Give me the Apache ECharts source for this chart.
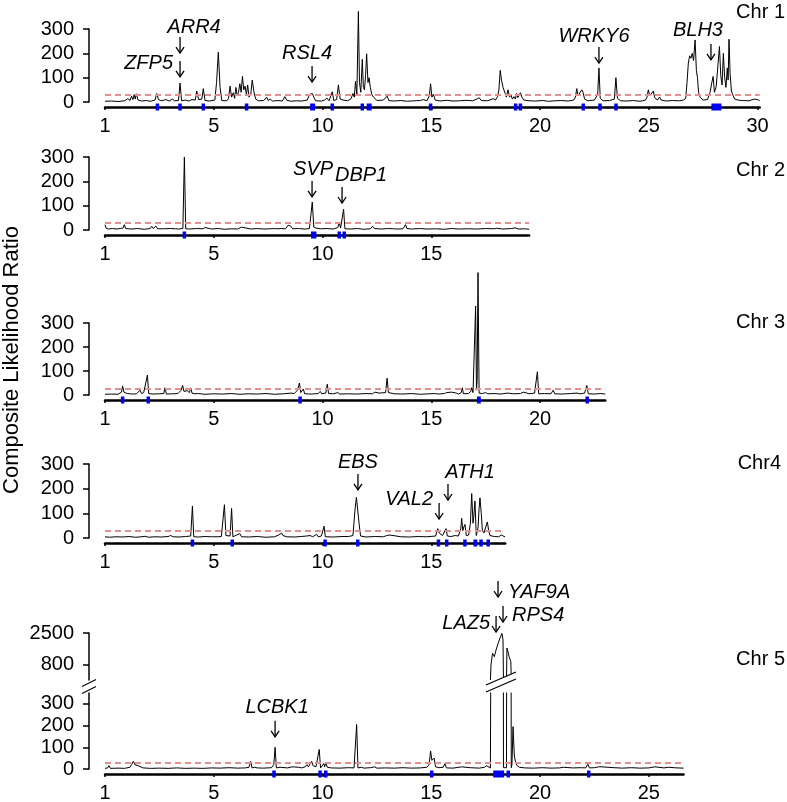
<!DOCTYPE html>
<html><head><meta charset="utf-8">
<script src="https://cdn.jsdelivr.net/npm/echarts@6/dist/echarts.min.js"></script>
<style>html,body{margin:0;padding:0;background:#fff}#c{width:787px;height:802px}</style>
</head><body><div id="c"></div>
<script>
// ---------------- DATA ----------------
const chrNames = ['Chr 1', 'Chr 2', 'Chr 3', 'Chr4', 'Chr 5'];
const chrLength = [30.1, 19.5, 23.0, 18.4, 26.6];           // Mb shown on each axis
const xTickPos = [0, 5, 10, 15, 20, 25, 30];
const xTickText = ['1', '5', '10', '15', '20', '25', '30'];
const yTicksLow = [0, 100, 200, 300];
const yTicksHigh = [800, 2500];
const threshold = 28;
const yTitle = 'Composite Likelihood Ratio';

// [position (Mb), composite likelihood ratio]
const chr1 = [[0,3],[0.3,4],[0.6,2],[0.9,5],[1.05,14],[1.15,6],[1.22,24],[1.28,10],[1.34,30],[1.39,12],[1.44,34],[1.52,8],[1.6,16],[1.68,4],[1.9,6],[2.1,3],[2.3,8],[2.38,35],[2.46,10],[2.6,5],[2.8,10],[2.95,4],[3.1,12],[3.2,5],[3.38,6],[3.45,78],[3.52,5],[3.7,8],[3.85,4],[4.0,10],[4.15,8],[4.22,45],[4.3,10],[4.37,18],[4.45,12],[4.52,55],[4.6,6],[4.8,4],[5.05,8],[5.13,80],[5.21,205],[5.29,60],[5.37,6],[5.6,5],[5.68,15],[5.75,65],[5.82,20],[5.9,38],[5.96,15],[6.02,60],[6.08,25],[6.14,40],[6.2,75],[6.26,40],[6.32,105],[6.38,50],[6.44,65],[6.5,30],[6.56,70],[6.62,20],[6.7,30],[6.77,90],[6.85,40],[6.93,12],[7.05,5],[7.3,6],[7.43,20],[7.5,6],[7.6,12],[7.7,4],[7.95,6],[8.15,4],[8.27,22],[8.35,8],[8.43,12],[8.55,3],[8.8,5],[9.05,4],[9.3,8],[9.4,30],[9.47,34],[9.53,35],[9.6,20],[9.68,5],[9.95,4],[10.1,8],[10.2,16],[10.3,5],[10.45,42],[10.52,6],[10.65,10],[10.73,70],[10.81,12],[10.95,8],[11.15,5],[11.3,12],[11.4,35],[11.46,20],[11.52,85],[11.58,30],[11.65,372],[11.7,80],[11.76,40],[11.83,175],[11.88,60],[11.93,50],[11.98,110],[12.03,198],[12.09,80],[12.14,100],[12.2,60],[12.27,30],[12.35,20],[12.5,6],[12.8,8],[12.97,24],[13.05,6],[13.3,4],[13.6,6],[13.9,3],[14.2,5],[14.5,6],[14.64,10],[14.8,5],[14.91,25],[14.97,75],[15.03,20],[15.1,32],[15.18,8],[15.4,4],[15.7,7],[16.0,4],[16.3,5],[16.6,7],[16.9,5],[17.1,12],[17.2,18],[17.3,6],[17.6,5],[17.85,14],[17.95,8],[18.05,22],[18.11,50],[18.17,130],[18.23,90],[18.3,60],[18.38,40],[18.45,20],[18.53,50],[18.6,20],[18.66,30],[18.73,12],[18.8,22],[18.87,12],[18.92,35],[18.98,18],[19.05,25],[19.1,38],[19.17,20],[19.25,8],[19.5,5],[19.8,4],[20.1,6],[20.4,3],[20.7,5],[21.0,6],[21.3,4],[21.55,8],[21.63,20],[21.69,55],[21.75,25],[21.83,30],[21.92,50],[21.98,40],[22.05,12],[22.2,5],[22.5,8],[22.65,30],[22.71,140],[22.77,15],[22.9,5],[23.2,6],[23.42,12],[23.49,100],[23.56,15],[23.7,5],[24.0,4],[24.3,6],[24.6,3],[24.85,8],[24.92,20],[24.98,50],[25.05,25],[25.13,30],[25.21,45],[25.27,18],[25.4,8],[25.5,20],[25.57,8],[25.8,4],[26.1,6],[26.4,5],[26.6,8],[26.7,15],[26.76,80],[26.82,160],[26.88,190],[26.94,180],[27.0,200],[27.06,170],[27.13,255],[27.19,130],[27.24,100],[27.29,40],[27.36,20],[27.5,8],[27.7,10],[27.82,40],[27.9,80],[27.96,105],[28.02,40],[28.1,63],[28.16,60],[28.25,228],[28.31,110],[28.37,70],[28.43,200],[28.49,100],[28.55,60],[28.61,140],[28.65,90],[28.69,258],[28.74,118],[28.8,45],[28.86,30],[28.95,12],[29.1,8],[29.3,6],[29.6,5],[29.85,12],[29.93,20],[30.0,10],[30.1,6]];

const chr2 = [[0,22],[0.05,8],[0.15,4],[0.35,6],[0.55,4],[0.7,6],[0.83,8],[0.89,22],[0.95,6],[1.2,4],[1.5,6],[1.8,3],[2.08,6],[2.15,15],[2.22,6],[2.34,16],[2.42,5],[2.7,5],[3.0,6],[3.24,5],[3.3,12],[3.37,4],[3.58,6],[3.65,300],[3.71,5],[3.9,4],[4.2,6],[4.5,5],[4.6,10],[4.67,5],[4.9,4],[5.2,6],[5.5,3],[5.8,5],[6.1,4],[6.28,12],[6.35,5],[6.7,4],[7.0,6],[7.3,4],[7.6,5],[7.75,6],[7.82,12],[7.89,5],[8.1,6],[8.3,5],[8.42,20],[8.48,28],[8.55,15],[8.62,5],[8.9,6],[9.2,4],[9.4,6],[9.53,115],[9.6,12],[9.7,8],[9.9,5],[10.2,6],[10.5,4],[10.7,10],[10.77,30],[10.83,8],[10.9,10],[10.97,85],[11.03,5],[11.3,4],[11.6,6],[11.9,3],[12.2,5],[12.3,15],[12.38,6],[12.7,4],[13.0,6],[13.27,5],[13.33,12],[13.4,4],[13.7,5],[13.82,22],[13.88,6],[14.1,4],[14.5,6],[14.8,4],[15.2,5],[15.6,3],[15.9,6],[16.3,4],[16.7,5],[17.1,4],[17.5,6],[17.9,5],[18.0,7],[18.3,4],[18.7,6],[18.85,9],[19.0,4],[19.3,5],[19.5,3]];

const chr3 = [[0,3],[0.3,4],[0.6,3],[0.76,12],[0.81,38],[0.87,12],[0.95,15],[1.02,6],[1.1,14],[1.17,5],[1.25,10],[1.32,4],[1.38,12],[1.45,5],[1.61,20],[1.68,6],[1.78,10],[1.87,8],[1.95,83],[2.01,6],[2.2,4],[2.5,5],[2.7,6],[2.76,30],[2.82,4],[3.1,5],[3.35,6],[3.5,20],[3.57,40],[3.63,15],[3.7,10],[3.78,18],[3.83,25],[3.88,10],[3.94,30],[4.0,8],[4.1,5],[4.3,6],[4.6,3],[5.0,5],[5.4,4],[5.8,6],[6.2,3],[6.6,5],[7.0,4],[7.4,6],[7.8,3],[8.2,5],[8.55,8],[8.7,6],[8.85,20],[8.94,50],[9.0,10],[9.06,8],[9.12,25],[9.18,5],[9.5,4],[9.8,6],[9.9,15],[9.96,5],[10.15,8],[10.22,45],[10.28,6],[10.5,5],[10.7,10],[10.8,4],[11.2,5],[11.6,4],[12.0,6],[12.3,5],[12.41,12],[12.48,5],[12.6,8],[12.9,10],[12.97,70],[13.03,10],[13.15,8],[13.23,15],[13.3,5],[13.7,4],[14.1,6],[14.5,3],[14.9,5],[15.2,6],[15.25,10],[15.32,4],[15.6,6],[15.71,10],[15.78,5],[15.94,12],[16.0,5],[16.15,8],[16.25,4],[16.38,10],[16.43,30],[16.48,5],[16.7,6],[16.82,15],[16.86,30],[16.92,10],[16.98,12],[17.04,370],[17.08,20],[17.11,60],[17.15,510],[17.2,8],[17.35,6],[17.5,10],[17.6,5],[17.9,6],[18.2,4],[18.5,8],[18.8,5],[19.1,6],[19.23,12],[19.3,4],[19.4,8],[19.5,5],[19.75,8],[19.88,97],[19.94,5],[20.2,6],[20.5,5],[20.61,20],[20.68,5],[21.0,4],[21.4,6],[21.7,8],[21.76,15],[21.85,5],[22.05,8],[22.15,40],[22.22,5],[22.5,4],[22.8,6],[23.0,4]];

const chr4 = [[0,5],[0.2,3],[0.5,5],[0.8,4],[1.1,6],[1.4,3],[1.7,5],[1.84,7],[2.0,3],[2.3,5],[2.6,4],[2.9,6],[3.02,10],[3.07,15],[3.14,5],[3.4,4],[3.7,6],[3.94,8],[4.02,130],[4.08,5],[4.3,4],[4.6,6],[4.9,5],[4.98,10],[5.05,5],[5.13,12],[5.2,5],[5.28,8],[5.35,6],[5.49,135],[5.56,10],[5.65,6],[5.75,8],[5.82,120],[5.88,5],[6.05,12],[6.12,6],[6.2,18],[6.28,5],[6.6,4],[7.0,6],[7.4,3],[7.8,5],[7.98,12],[8.05,15],[8.12,20],[8.18,10],[8.27,15],[8.35,5],[8.7,4],[9.0,6],[9.27,8],[9.35,6],[9.43,10],[9.55,5],[9.73,15],[9.8,5],[9.95,8],[10.07,48],[10.13,5],[10.5,4],[10.9,6],[11.2,6],[11.4,10],[11.5,120],[11.56,165],[11.62,172],[11.68,60],[11.75,8],[12.0,4],[12.4,6],[12.8,5],[12.95,10],[13.02,6],[13.1,12],[13.18,4],[13.6,5],[14.0,4],[14.4,6],[14.8,5],[15.2,8],[15.3,38],[15.37,20],[15.44,15],[15.52,10],[15.6,14],[15.68,38],[15.74,8],[15.9,6],[16.1,10],[16.25,8],[16.36,40],[16.4,80],[16.45,30],[16.5,45],[16.55,55],[16.61,10],[16.72,12],[16.8,60],[16.86,180],[16.92,60],[16.96,90],[17.01,150],[17.07,10],[17.15,40],[17.2,120],[17.24,163],[17.3,100],[17.35,30],[17.42,20],[17.5,25],[17.58,65],[17.64,30],[17.7,10],[17.9,6],[18.1,5],[18.22,12],[18.28,5],[18.4,4]];

const chr5 = [[0,3],[0.12,5],[0.18,15],[0.25,3],[0.6,4],[0.9,3],[1.15,8],[1.22,20],[1.3,35],[1.38,20],[1.46,28],[1.53,15],[1.62,8],[1.75,5],[2.1,3],[2.5,4],[2.9,3],[3.3,5],[3.7,3],[4.1,4],[4.5,3],[4.9,5],[5.3,4],[5.7,6],[6.1,4],[6.45,5],[6.62,8],[6.7,35],[6.76,5],[6.88,8],[6.94,15],[7.0,5],[7.3,4],[7.65,6],[7.76,20],[7.82,100],[7.88,5],[8.05,8],[8.12,4],[8.4,5],[8.6,10],[8.66,4],[8.9,8],[8.97,12],[9.05,5],[9.2,10],[9.28,20],[9.35,10],[9.42,15],[9.5,35],[9.57,15],[9.63,20],[9.7,10],[9.78,8],[9.85,90],[9.91,5],[10.0,12],[10.06,25],[10.1,10],[10.15,30],[10.22,8],[10.4,5],[10.8,4],[11.2,6],[11.45,5],[11.57,205],[11.63,5],[11.8,8],[11.9,4],[12.2,6],[12.4,10],[12.5,4],[12.9,5],[13.3,4],[13.7,6],[14.1,4],[14.5,5],[14.8,8],[14.9,20],[14.97,83],[15.03,40],[15.08,45],[15.13,50],[15.2,10],[15.35,6],[15.55,8],[15.63,25],[15.7,5],[16.0,4],[16.4,10],[16.48,5],[16.8,6],[17.2,4],[17.45,8],[17.55,15],[17.62,6],[17.72,5],[17.75,850],[17.82,1420],[17.9,1240],[17.98,1600],[18.08,1970],[18.16,2230],[18.25,2480],[18.3,2130],[18.32,6],[18.46,6],[18.48,1700],[18.53,1500],[18.58,1240],[18.62,1220],[18.66,970],[18.68,6],[18.71,20],[18.76,195],[18.82,60],[18.88,30],[18.95,15],[19.05,8],[19.3,5],[19.7,4],[20.1,6],[20.5,4],[20.9,5],[21.07,8],[21.15,4],[21.5,5],[21.9,6],[22.1,5],[22.2,22],[22.27,5],[22.5,6],[22.7,10],[22.77,6],[22.85,10],[22.92,5],[23.4,6],[23.8,4],[24.2,6],[24.6,4],[25.0,5],[25.29,10],[25.36,4],[25.7,5],[25.9,8],[25.97,4],[26.3,5],[26.6,4]];

// blue markers on the axis: [start Mb, end Mb]
const chr1Blue = [[2.41,2.41],[3.45,3.45],[4.52,4.52],[6.51,6.51],[9.43,9.66],[10.45,10.45],[11.83,11.83],[12.03,12.26],[14.97,14.97],[18.88,18.88],[19.1,19.1],[21.99,21.99],[22.76,22.76],[23.42,23.57],[27.88,28.34]];
const chr2Blue = [[3.65,3.65],[9.47,9.72],[10.77,10.77],[11.0,11.0]];
const chr3Blue = [[0.81,0.81],[1.99,1.99],[8.97,8.97],[17.1,17.28],[22.17,22.17]];
const chr4Blue = [[4.02,4.02],[5.85,5.85],[10.12,10.12],[11.62,11.62],[15.33,15.33],[15.71,15.71],[16.55,16.55],[16.94,17.12],[17.29,17.29],[17.62,17.62]];
const chr5Blue = [[7.77,7.77],[9.89,9.89],[10.15,10.15],[15.02,15.02],[17.85,18.35],[18.54,18.54],[22.24,22.24]];

// annotated genes
const geneNames = ['ZFP5','ARR4','RSL4','WRKY6','BLH3','SVP','DBP1','EBS','VAL2','ATH1','LCBK1','LAZ5','YAF9A','RPS4'];
const genePanel = [0,0,0,0,0,1,1,3,3,3,4,5,5,5];   // 5 = upper (broken) part of Chr 5
const genePos   = [3.45,3.45,9.52,22.71,27.86,9.52,10.9,11.63,15.36,15.77,7.82,17.98,18.07,18.3];
const geneTip   = [103,201,82,160,173,136,111,195,77,154,148,2553,4415,3085];

// ---------------- LAYOUT / STYLE ----------------
const FONT = '"Liberation Sans", Arial, Helvetica, sans-serif';
const LEFT = 105, PX_PER_MB = 21.75, Y_OFFSET = 16, X_OFFSET = 5, ARROW_LEN = 16;
const panels = [
  {top: 29,  height: 73, min: 0, max: 300},
  {top: 157, height: 73, min: 0, max: 300},
  {top: 323, height: 72, min: 0, max: 300},
  {top: 464, height: 74, min: 0, max: 300},
  {top: 693, height: 76, min: 0, max: 350},
  {top: 633, height: 47, min: 0, max: 2500}
];
const panelChr = [0, 1, 2, 3, 4, 4];
const chrLabelPos = [[785, 12], [785, 170], [785, 322], [781, 463], [785, 659]];
const labelLayout = {
  ZFP5:  {align: 'right',  dx: -7,  dy: -13},
  ARR4:  {align: 'center', dx: 14,  dy: -26},
  RSL4:  {align: 'center', dx: -5,  dy: -29},
  WRKY6: {align: 'center', dx: -5,  dy: -27},
  BLH3:  {align: 'center', dx: -13, dy: -29},
  SVP:   {align: 'center', dx: 1,   dy: -27},
  DBP1:  {align: 'center', dx: 19,  dy: -28},
  EBS:   {align: 'center', dx: 0,   dy: -27},
  VAL2:  {align: 'right',  dx: -6,  dy: -20},
  ATH1:  {align: 'center', dx: 22,  dy: -28},
  LCBK1: {align: 'center', dx: 2,   dy: -29},
  LAZ5:  {align: 'right',  dx: -6,  dy: -9},
  YAF9A: {align: 'left',   dx: 10,  dy: -5},
  RPS4:  {align: 'left',   dx: 9,   dy: -7}
};

const chrData = [chr1, chr2, chr3, chr4, chr5];
const chrBlue = [chr1Blue, chr2Blue, chr3Blue, chr4Blue, chr5Blue];
const BREAK_LOW = panels[4].max;

// upper part of Chr 5: only the stretch that exceeds the break
const isHigh = p => p !== undefined && p[1] >= BREAK_LOW;
const chr5Upper = chr5.map((p, i) =>
  (isHigh(p) || isHigh(chr5[i - 1]) || isHigh(chr5[i + 1])) ? p : [p[0], null]);

const chart = echarts.init(document.getElementById('c'), null, {renderer: 'canvas'});

const grids = panels.map((p, i) => ({
  left: LEFT, top: p.top, height: p.height,
  width: chrLength[panelChr[i]] * PX_PER_MB,
  containLabel: false, outerBoundsMode: 'none'
}));

const xAxes = panels.map((p, i) => {
  const len = chrLength[panelChr[i]];
  const ticks = xTickPos.filter(v => v <= len);
  return {
    gridIndex: i, type: 'value', min: 0, max: len, show: i < 5,
    position: 'bottom', offset: X_OFFSET,
    axisLine: {show: true, onZero: false, lineStyle: {color: '#000', width: 2.5}},
    axisTick: {show: true, length: 3, customValues: ticks, lineStyle: {color: '#000', width: 1.5}},
    axisLabel: {show: true, customValues: ticks, margin: 9, color: '#000', fontSize: 20, fontFamily: FONT,
      formatter: v => xTickText[xTickPos.indexOf(v)]},
    splitLine: {show: false}
  };
});

const yAxes = panels.map((p, i) => {
  const ax = {
    gridIndex: i, type: 'value', min: p.min, max: p.max, position: 'left', offset: Y_OFFSET,
    axisLine: {show: true, onZero: false, lineStyle: {color: '#000', width: 1.5}},
    axisTick: {show: true, length: 6, lineStyle: {color: '#000', width: 1.5}},
    axisLabel: {show: true, margin: 15, color: '#000', fontSize: 20, fontFamily: FONT,
      formatter: v => String(v)},
    splitLine: {show: false}
  };
  if (i < 4) ax.interval = 100;
  else {
    const cv = i === 4 ? yTicksLow : yTicksHigh;
    ax.axisTick.customValues = cv;
    ax.axisLabel.customValues = cv;
  }
  return ax;
});

const series = [];
chrData.forEach((d, i) => {
  series.push({
    type: 'line', xAxisIndex: i, yAxisIndex: i, data: d,
    symbol: 'none', showSymbol: false, clip: i === 4, silent: true, z: 3,
    lineStyle: {color: '#000', width: 1},
    emphasis: {disabled: true},
    markLine: {
      silent: true, symbol: 'none', label: {show: false}, animation: false,
      lineStyle: {type: [6, 4], color: '#e48f90', width: 1.8},
      data: [{yAxis: threshold}]
    }
  });
});
series.push({
  type: 'line', xAxisIndex: 5, yAxisIndex: 5, data: chr5Upper,
  symbol: 'none', showSymbol: false, clip: true, silent: true, z: 3,
  lineStyle: {color: '#000', width: 1}, emphasis: {disabled: true}
});
chrBlue.forEach((d, i) => {
  series.push({
    type: 'custom', xAxisIndex: i, yAxisIndex: i, silent: true, z: 5, clip: false,
    data: d.map(r => [r[0], r[1], 0]),
    encode: {x: [0, 1], y: 2},
    renderItem: (params, api) => {
      const s = api.coord([api.value(0), 0]);
      const e = api.coord([api.value(1), 0]);
      const w = Math.max(e[0] - s[0], 3.5);
      const cx = (s[0] + e[0]) / 2;
      return {type: 'rect', shape: {x: cx - w / 2, y: s[1] + X_OFFSET - 3.5, width: w, height: 7},
        style: {fill: '#0000f0'}};
    }
  });
});

chart.setOption({
  animation: false,
  backgroundColor: '#fff',
  grid: grids, xAxis: xAxes, yAxis: yAxes, series: series
});

// ---------- decorations placed through the axes ----------
const px = (g, x, y) => chart.convertToPixel({gridIndex: g}, [x, y]);
const gfx = [];
gfx.push({type: 'text', x: 12, y: 360, rotation: Math.PI / 2,
  style: {text: yTitle, font: '22px ' + FONT, fill: '#000', align: 'center', verticalAlign: 'middle'}});
chrNames.forEach((n, i) => gfx.push({type: 'text', x: chrLabelPos[i][0], y: chrLabelPos[i][1],
  style: {text: n, font: '20px ' + FONT, fill: '#000', align: 'right', verticalAlign: 'middle'}}));

geneNames.forEach((name, k) => {
  const [ax, ay] = px(genePanel[k], genePos[k], geneTip[k]);
  const lay = labelLayout[name];
  gfx.push({type: 'line', shape: {x1: ax, y1: ay - ARROW_LEN, x2: ax, y2: ay},
    style: {stroke: '#000', lineWidth: 1.3}});
  gfx.push({type: 'polyline', shape: {points: [[ax - 4, ay - 6], [ax, ay], [ax + 4, ay - 6]]},
    style: {stroke: '#000', lineWidth: 1.3, fill: 'none'}});
  gfx.push({type: 'text', x: ax + lay.dx, y: ay + lay.dy,
    style: {text: name, font: 'italic 20px ' + FONT, fill: '#000', align: lay.align, verticalAlign: 'middle'}});
});

// axis break marks (Chr 5)
const highPts = chr5.filter(isHigh);
const breakMb = (highPts[0][0] + highPts[highPts.length - 1][0]) / 2;
const upperBottom = px(5, 0, panels[5].min)[1];
const lowerTop = px(4, 0, panels[4].max)[1];
const cy = (upperBottom + lowerTop) / 2;
const yAxX = px(4, 0, 0)[0] - Y_OFFSET;
[[0, -7], [7, 0]].forEach(d => gfx.push({type: 'line', z: 101,
  shape: {x1: yAxX - 7, y1: cy + d[1] + 7, x2: yAxX + 7, y2: cy + d[1]},
  style: {stroke: '#000', lineWidth: 1.2}}));
const bx = px(4, breakMb, 0)[0];
const a1 = [bx - 15, cy - 1.5], a2 = [bx + 15, cy - 14.5];
const b1 = [bx - 15, cy + 5.5], b2 = [bx + 15, cy - 7.5];
gfx.push({type: 'polygon', z: 100, shape: {points: [a1, a2, b2, b1]}, style: {fill: '#fff'}});
[[a1, a2], [b1, b2]].forEach(l => gfx.push({type: 'line', z: 101,
  shape: {x1: l[0][0], y1: l[0][1], x2: l[1][0], y2: l[1][1]}, style: {stroke: '#000', lineWidth: 1.2}}));

chart.setOption({graphic: gfx});
</script>
</body></html>
